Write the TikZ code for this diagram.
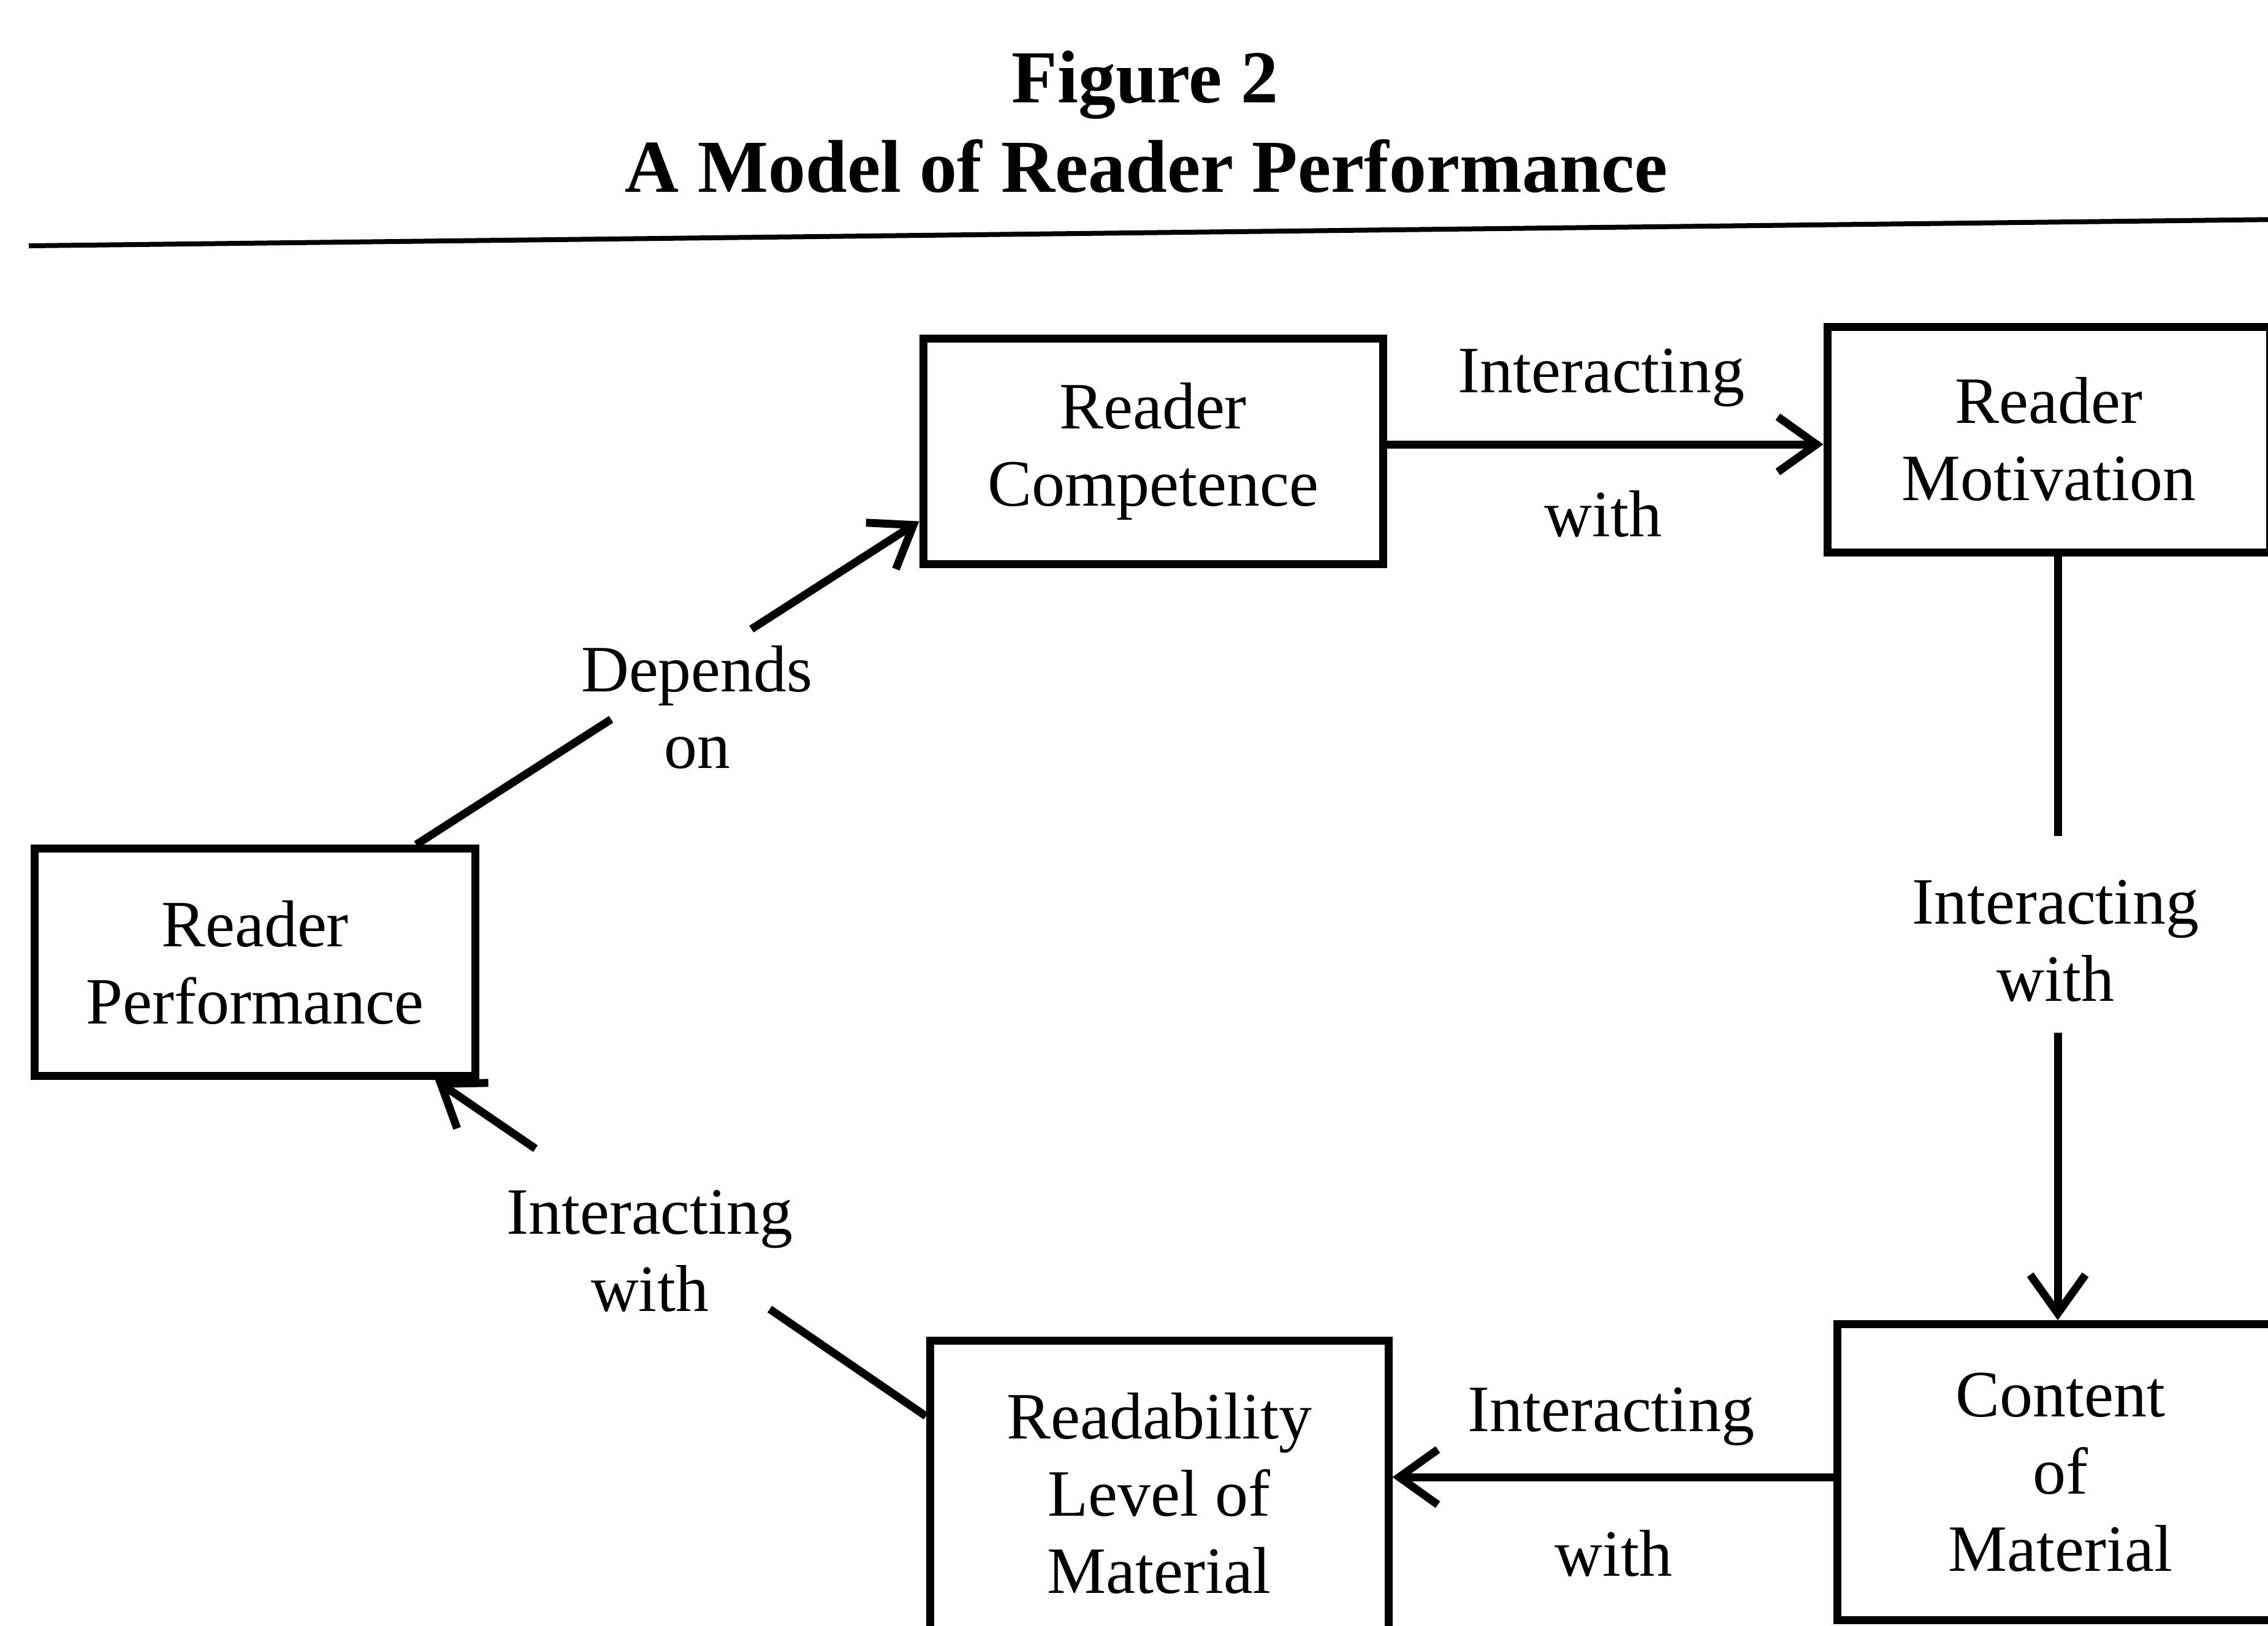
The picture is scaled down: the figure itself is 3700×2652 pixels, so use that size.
\documentclass[tikz,border=0pt]{standalone}
\usepackage{fontspec}
\setmainfont{Liberation Serif}
\usetikzlibrary{arrows.meta,calc}
\begin{document}
\begin{tikzpicture}[x=0.1pt,y=-0.1pt,
  txt/.style={font=\fontsize{10.8}{12.6}\selectfont},
  box/.style={txt, draw, line width=1.3pt, align=center, inner sep=0pt},
  lbl/.style={txt, align=center, inner sep=0pt},
  gap/.style={sloped, fill=white, inner sep=0pt, minimum height=4pt},
  conn/.style={line width=1.3pt},
  arr/.style={conn, -{Straight Barb[length=6.3pt,width=9pt,line width=1.3pt]}},
  ttl/.style={font=\fontsize{12.2}{14.6}\selectfont\bfseries, inner sep=0pt, anchor=base}]
\useasboundingbox (0,0) rectangle (3700,2652);

% title
\node[ttl] (t1) at (1868,167) {Figure 2};
\node[ttl] (t2) at (1870,313) {A Model of Reader Performance};
\coordinate (r1) at (47,401);
\coordinate (r2) at (3720,358);
\draw[line width=0.8pt] (r1) -- (r2);

% boxes
\node[box, minimum width=75pt, minimum height=36.8pt] (comp) at (1881,736) {Reader\\Competence};
\node[box, minimum width=72.2pt, minimum height=36.8pt] (mot) at (3342,717) {Reader\\Motivation};
\node[box, minimum width=71.9pt, minimum height=37.1pt] (perf) at (416,1570) {Reader\\Performance};
\node[box, minimum width=74.8pt, minimum height=49.8pt] (read) at (1891,2436) {Readability\\Level of\\Material};
\node[box, minimum width=72.8pt, minimum height=48.3pt] (cont) at (3361,2402) {Content\\of\\Material};

% helper coordinates
\coordinate (h1) at (0,725);
\coordinate (h2) at (0,2410);
\coordinate (v1) at (3357,0);
\coordinate (ps) at ($(perf.north east)+(-103,0)$);
\coordinate (ce) at ($(comp.south west)+(0,-76)$);
\coordinate (rs) at ($(read.north west)+(0,130)$);
\coordinate (pe) at ($(perf.south east)+(-72,0)$);

% connectors
\draw[arr] (comp.east |- h1) -- (mot.west |- h1);
\draw[arr] (mot.south -| v1) -- node[gap, pos=0.495, minimum width=32.1pt] (g1) {} (cont.north -| v1);
\draw[arr] (cont.west |- h2) -- (read.east |- h2);
\draw[arr] (rs) -- node[gap, pos=0.557, minimum width=46.3pt] (g2) {} (pe);
\draw[arr] (ps) -- node[gap, pos=0.527, minimum width=27.2pt] (g3) {} (ce);

% labels
\node[lbl, anchor=base] (l1a) at (2612,640) {Interacting};
\node[lbl, anchor=base] (l1b) at (2615,875) {with};
\node[lbl] (l2) at (3353,1535) {Interacting\\with};
\node[lbl, anchor=base] (l3a) at (2628,2335) {Interacting};
\node[lbl, anchor=base] (l3b) at (2632,2571) {with};
\node[lbl] (l4) at (1060,2041) {Interacting\\with};
\node[lbl] (l5) at (1137,1154) {Depends\\on};
\end{tikzpicture}
\end{document}
